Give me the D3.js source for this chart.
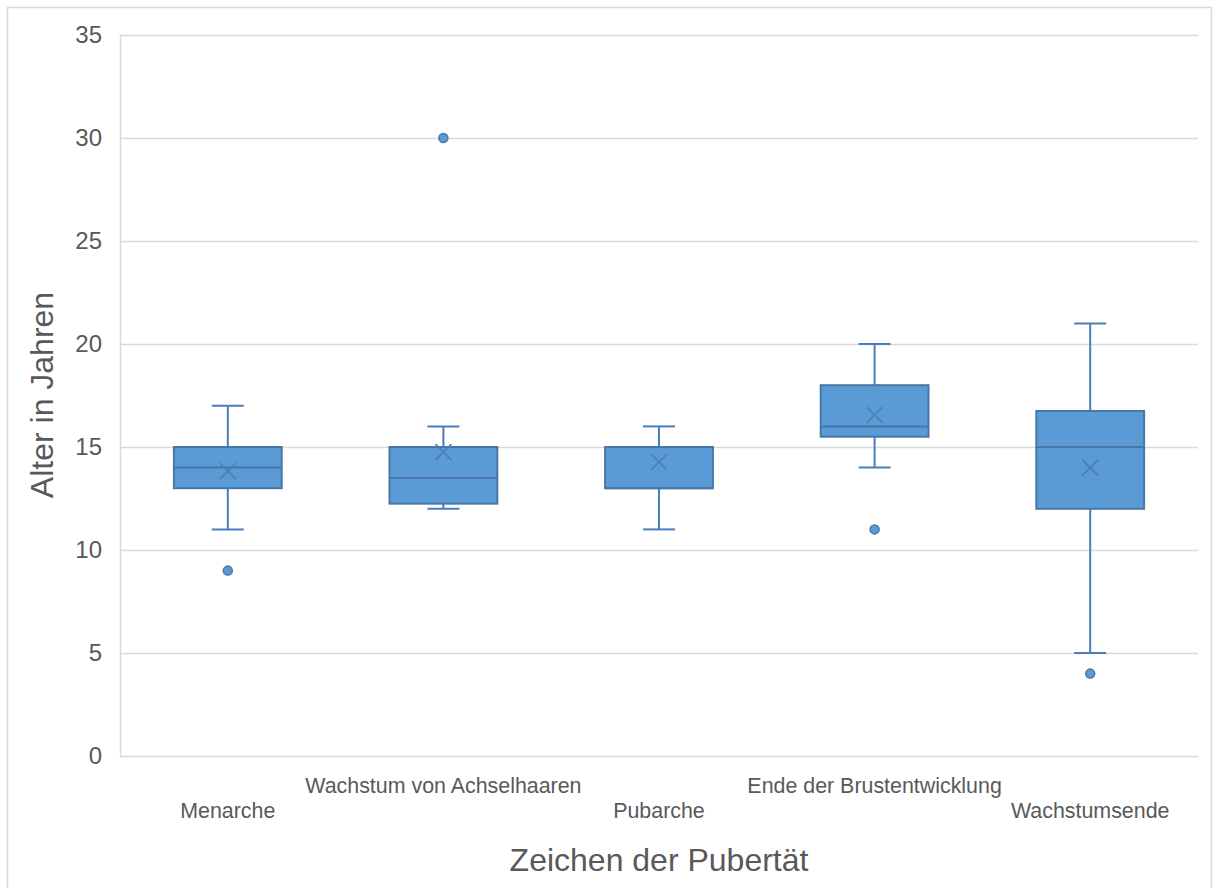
<!DOCTYPE html>
<html>
<head>
<meta charset="utf-8">
<script src="https://cdn.jsdelivr.net/npm/d3@7"></script>
<style>
  html, body { margin: 0; padding: 0; background: #fff; }
  svg { display: block; font-family: Arial, "Liberation Sans", sans-serif; }
</style>
</head>
<body>
<svg id="chart" width="1218" height="888"></svg>
<script>
// Pubertätsmerkmale: Alter in Jahren, als Boxplot je Merkmal
const categories = ["Menarche", "Wachstum von Achselhaaren", "Pubarche", "Ende der Brustentwicklung", "Wachstumsende"];
const whiskerLow  = [11, 12, 11, 14, 5];
const q1          = [13, 12.25, 13, 15.5, 12];
const median      = [14, 13.5, 13, 16, 15];
const q3          = [15, 15, 15, 18, 16.75];
const whiskerHigh = [17, 16, 16, 20, 21];
const mean        = [13.83, 14.75, 14.27, 16.55, 14];
const outliers    = [[9], [30], [], [11], [4]];
const yTicks      = [0, 5, 10, 15, 20, 25, 30, 35];

const rows = categories.map((c, i) => ({
  cat: c, lo: whiskerLow[i], q1: q1[i], med: median[i], q3: q3[i],
  hi: whiskerHigh[i], mean: mean[i], out: outliers[i]
}));

const svg = d3.select("#chart");
const margin = { left: 120, right: 20, top: 35, bottom: 132 };
const W = 1218, H = 888;

const x = d3.scaleBand().domain(categories)
  .range([margin.left, W - margin.right]).paddingInner(0).paddingOuter(0);
const y = d3.scaleLinear().domain([0, 35]).range([H - margin.bottom, margin.top]);

const textCol = "#595959";
const gridCol = "#d9d9d9";
const fill = "#5b9bd5";
const edge = "#4a7ebb";

// outer chart frame
svg.append("rect").attr("x", 7.5).attr("y", 7.5).attr("width", 1204).attr("height", 890)
  .attr("fill", "none").attr("stroke", gridCol).attr("stroke-width", 1.5);

// horizontal gridlines
svg.append("g").selectAll("line").data(yTicks).join("line")
  .attr("x1", margin.left).attr("x2", W - margin.right)
  .attr("y1", d => Math.round(y(d)) + 0.5).attr("y2", d => Math.round(y(d)) + 0.5)
  .attr("stroke", gridCol).attr("stroke-width", 1.5);

// vertical axis line
svg.append("line").attr("x1", margin.left + 0.5).attr("x2", margin.left + 0.5)
  .attr("y1", y(35)).attr("y2", y(0)).attr("stroke", gridCol).attr("stroke-width", 1.5);

// y tick labels
const yAxis = d3.axisLeft(y).tickValues(yTicks).tickSize(0).tickPadding(18);
const gy = svg.append("g").attr("transform", `translate(${margin.left},0)`).call(yAxis);
gy.select(".domain").remove();
gy.selectAll("text").attr("font-size", 24).attr("fill", textCol)
  .attr("font-family", "Arial, 'Liberation Sans', sans-serif");

// x category labels, staggered on two rows
svg.append("g").selectAll("text").data(categories).join("text")
  .attr("x", d => x(d) + x.bandwidth() / 2)
  .attr("y", (d, i) => i % 2 === 0 ? 818 : 793)
  .attr("text-anchor", "middle").attr("font-size", 21.4).attr("fill", textCol)
  .text(d => d);

// axis titles
svg.append("text").attr("x", 659).attr("y", 871).attr("text-anchor", "middle")
  .attr("font-size", 32).attr("fill", textCol).text("Zeichen der Pubertät");
svg.append("text").attr("transform", "translate(53,395) rotate(-90)")
  .attr("text-anchor", "middle").attr("font-size", 32).attr("fill", textCol)
  .text("Alter in Jahren");

// boxes
const boxW = x.bandwidth() * 0.5;
const capW = 32;
const g = svg.append("g").selectAll("g").data(rows).join("g")
  .attr("transform", d => `translate(${x(d.cat) + x.bandwidth() / 2},0)`);

// whiskers
g.append("line").attr("x1", 0).attr("x2", 0).attr("y1", d => y(d.hi)).attr("y2", d => y(d.q3))
  .attr("stroke", edge).attr("stroke-width", 2);
g.append("line").attr("x1", 0).attr("x2", 0).attr("y1", d => y(d.q1)).attr("y2", d => y(d.lo))
  .attr("stroke", edge).attr("stroke-width", 2);
g.append("line").attr("x1", -capW / 2).attr("x2", capW / 2).attr("y1", d => y(d.hi)).attr("y2", d => y(d.hi))
  .attr("stroke", edge).attr("stroke-width", 2);
g.append("line").attr("x1", -capW / 2).attr("x2", capW / 2).attr("y1", d => y(d.lo)).attr("y2", d => y(d.lo))
  .attr("stroke", edge).attr("stroke-width", 2);

// box body
g.append("rect").attr("x", -boxW / 2).attr("width", boxW)
  .attr("y", d => y(d.q3)).attr("height", d => y(d.q1) - y(d.q3))
  .attr("fill", fill).attr("stroke", "#4677a6").attr("stroke-width", 2);

// median
g.append("line").attr("x1", -boxW / 2).attr("x2", boxW / 2)
  .attr("y1", d => y(d.med)).attr("y2", d => y(d.med))
  .attr("stroke", "#4677a6").attr("stroke-width", 2);

// mean marker
const m = 8;
g.append("path")
  .attr("d", d => { const cy = y(d.mean); return `M${-m},${cy - m}L${m},${cy + m}M${-m},${cy + m}L${m},${cy - m}`; })
  .attr("stroke", "#4a7eb0").attr("stroke-width", 1.5).attr("fill", "none");

// outliers
g.selectAll("circle").data(d => d.out).join("circle")
  .attr("cx", 0).attr("cy", v => y(v)).attr("r", 4.5)
  .attr("fill", fill).attr("stroke", "#4677a6").attr("stroke-width", 1.5);
</script>
</body>
</html>
